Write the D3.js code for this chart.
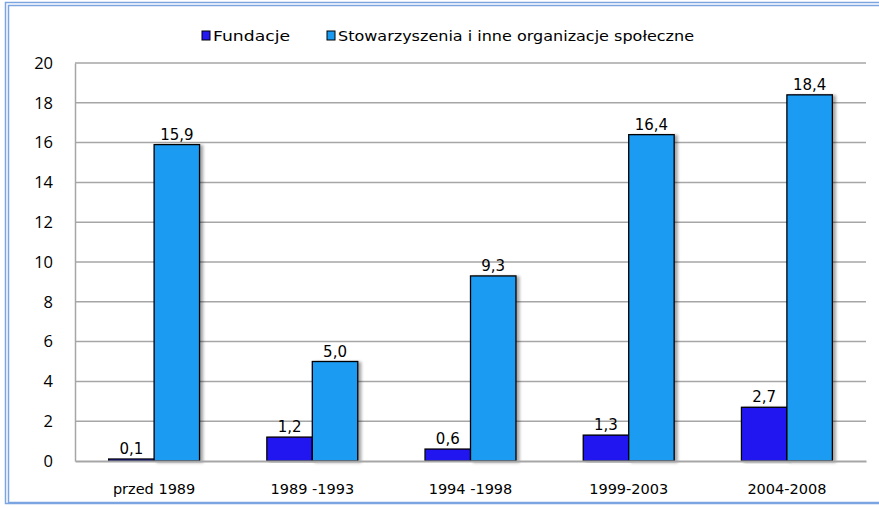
<!DOCTYPE html>
<html><head><meta charset="utf-8">
<script src="https://cdn.jsdelivr.net/npm/d3@7"></script>
<style>html,body{margin:0;padding:0;background:#fff;}svg{display:block;}</style>
</head><body>
<svg id="c" width="879" height="508"></svg>
<script>
const categories = ["przed 1989", "1989 -1993", "1994 -1998", "1999-2003", "2004-2008"];
const seriesNames = ["Fundacje", "Stowarzyszenia i inne organizacje społeczne"];
const fundacje = [0.1, 1.2, 0.6, 1.3, 2.7];
const stowarzyszenia = [15.9, 5.0, 9.3, 16.4, 18.4];
const yTicks = [0, 2, 4, 6, 8, 10, 12, 14, 16, 18, 20];
const colors = ["#2419F0", "#1A9BF2"];

const svg = d3.select("#c");
const W = 879, H = 508;
const m = {left: 75, right: 866, top: 63, bottom: 461};

// frame (double border)
svg.append("rect").attr("x", 5.5).attr("y", 2.5).attr("width", W + 10).attr("height", 501)
  .attr("fill", "none").attr("stroke", "#7BA5E0").attr("stroke-width", 1.5);
svg.append("rect").attr("x", 8.5).attr("y", 5.5).attr("width", W + 10).attr("height", 497)
  .attr("fill", "none").attr("stroke", "#7BA5E0").attr("stroke-width", 1.5);

const defs = svg.append("defs");
const f = defs.append("filter").attr("id", "sh").attr("x", "-20%").attr("y", "-5%").attr("width", "150%").attr("height", "110%");
f.append("feGaussianBlur").attr("in", "SourceAlpha").attr("stdDeviation", 1.5).attr("result", "b");
f.append("feOffset").attr("in", "b").attr("dx", 3).attr("dy", 1).attr("result", "o");
f.append("feComponentTransfer").attr("in", "o").attr("result", "o2")
  .append("feFuncA").attr("type", "linear").attr("slope", 0.35);
const mg = f.append("feMerge");
mg.append("feMergeNode").attr("in", "o2");
mg.append("feMergeNode").attr("in", "SourceGraphic");

const x = d3.scaleBand().domain(categories).range([m.left, m.right]).paddingInner(0).paddingOuter(0);
const xs = d3.scaleBand().domain([0, 1]).range([0, x.bandwidth()]).paddingInner(0).paddingOuter(0.74);
const y = d3.scaleLinear().domain([0, 20]).range([m.bottom, m.top]);

// gridlines
svg.append("g").selectAll("line").data(yTicks.filter(d => d > 0)).join("line")
  .attr("x1", m.left).attr("x2", m.right)
  .attr("y1", d => y(d)).attr("y2", d => y(d))
  .attr("stroke", "#A6A6A6").attr("stroke-width", 1.5);

// y axis
const yAxis = svg.append("g").attr("transform", `translate(${m.left},0)`)
  .call(d3.axisLeft(y).tickValues(yTicks).tickSize(0).tickPadding(22).tickFormat(d3.format("d")));
yAxis.select(".domain").attr("stroke", "#A6A6A6").attr("stroke-width", 1.5);
yAxis.selectAll("text").attr("font-family", "'Open Sans', sans-serif").attr("font-size", 16.5).attr("fill", "#000");

// bars
const data = categories.map((c, i) => ({c, v: [fundacje[i], stowarzyszenia[i]]}));
const groups = svg.append("g").selectAll("g").data(data).join("g")
  .attr("transform", d => `translate(${x(d.c)},0)`);
groups.selectAll("rect").data(d => d.v.map((v, k) => ({v, k}))).join("rect")
  .attr("x", d => xs(d.k)).attr("width", xs.bandwidth())
  .attr("y", d => y(d.v)).attr("height", d => y(0) - y(d.v))
  .attr("fill", d => colors[d.k]).attr("stroke", "#000").attr("stroke-width", 1.3)
  .attr("filter", "url(#sh)");
groups.selectAll("text").data(d => d.v.map((v, k) => ({v, k}))).join("text")
  .attr("x", d => xs(d.k) + xs.bandwidth() / 2).attr("y", d => y(d.v) - 5)
  .attr("text-anchor", "middle").attr("font-family", "'DejaVu Sans', Verdana, sans-serif")
  .attr("font-size", 15).attr("fill", "#000")
  .text(d => d3.format(".1f")(d.v).replace(".", ","));

// x axis
const xAxis = svg.append("g").attr("transform", `translate(0,${m.bottom})`)
  .call(d3.axisBottom(x).tickSize(0).tickPadding(23));
xAxis.select(".domain").attr("stroke", "#A6A6A6").attr("stroke-width", 2);
xAxis.selectAll("text").attr("font-family", "'DejaVu Sans', Verdana, sans-serif").attr("font-size", 14.5).attr("fill", "#000");

// legend
const legX = [202, 327];
const legW = [77, 356];
const lg = svg.append("g");
seriesNames.forEach((n, i) => {
  lg.append("rect").attr("x", legX[i]).attr("y", 31).attr("width", 8).attr("height", 9)
    .attr("fill", colors[i]).attr("stroke", "#000").attr("stroke-width", 1);
  lg.append("text").attr("x", legX[i] + 11).attr("y", 40.5)
    .attr("font-family", "'DejaVu Sans', sans-serif").attr("font-size", 14)
    .attr("textLength", legW[i]).attr("lengthAdjust", "spacingAndGlyphs")
    .attr("fill", "#000").text(n);
});
</script>
</body></html>
